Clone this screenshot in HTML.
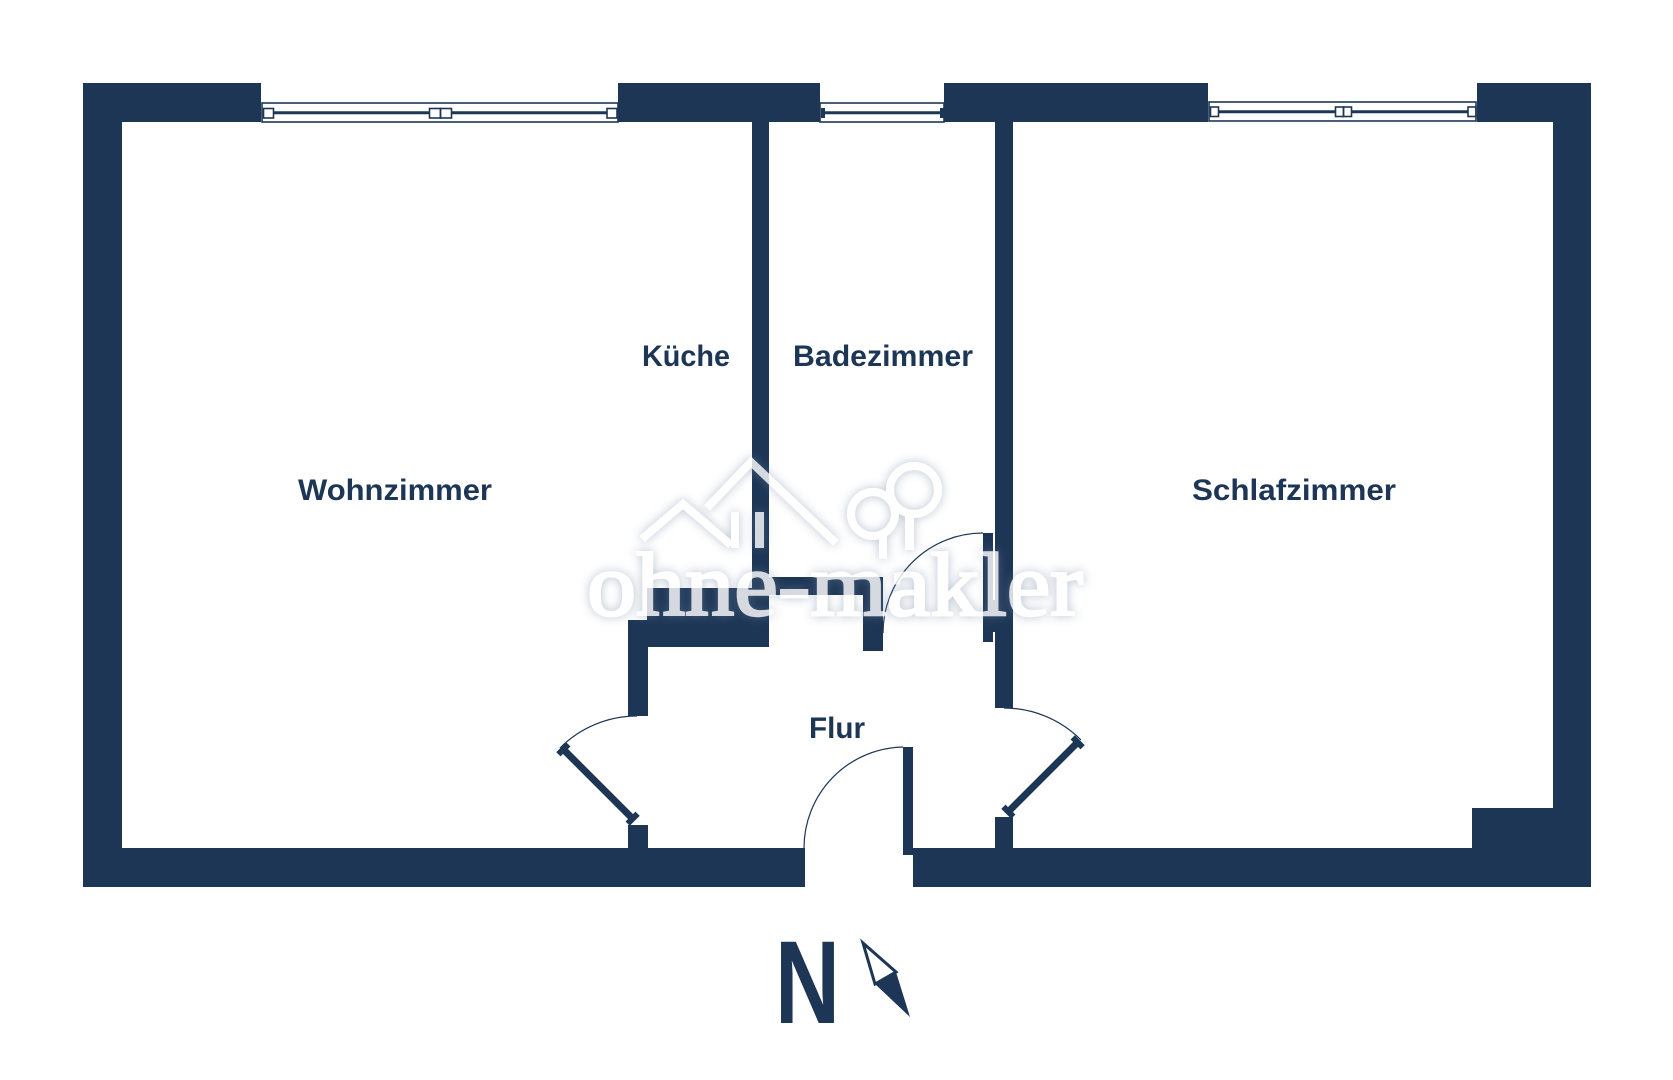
<!DOCTYPE html>
<html lang="de">
<head>
<meta charset="utf-8">
<title>Grundriss</title>
<style>
  html, body { margin: 0; padding: 0; background: #ffffff; }
  body { width: 1673px; height: 1080px; overflow: hidden; }
  svg { display: block; }
  .lbl { font-family: "Liberation Sans", "DejaVu Sans", sans-serif; font-weight: bold; fill: #1d3655; }
</style>
</head>
<body>
<svg width="1673" height="1080" viewBox="0 0 1673 1080" xmlns="http://www.w3.org/2000/svg">
  <defs>
    <filter id="glow" x="-20%" y="-40%" width="140%" height="180%">
      <feGaussianBlur in="SourceAlpha" stdDeviation="5" result="b"/>
      <feFlood flood-color="#6f84a0" flood-opacity="0.6"/>
      <feComposite in2="b" operator="in" result="s"/>
      <feMerge><feMergeNode in="s"/><feMergeNode in="SourceGraphic"/></feMerge>
    </filter>
  </defs>

  <rect width="1673" height="1080" fill="#ffffff"/>

  <g fill="#1d3655">
    <!-- top wall pieces -->
    <rect x="83" y="83" width="178" height="39"/>
    <rect x="618" y="83" width="202" height="39"/>
    <rect x="944" y="83" width="264" height="39"/>
    <rect x="1477" y="83" width="114" height="39"/>
    <!-- left / right walls -->
    <rect x="83" y="83" width="39" height="804"/>
    <rect x="1553" y="83" width="38" height="804"/>
    <!-- bottom walls -->
    <rect x="83" y="848" width="722" height="39"/>
    <rect x="913" y="848" width="678" height="39"/>
    <!-- corner block -->
    <rect x="1472" y="808" width="81" height="40"/>

    <!-- Küche / Bad wall -->
    <rect x="752" y="122" width="17" height="473"/>
    <!-- Bad bottom wall -->
    <rect x="752" y="577" width="131" height="18"/>
    <rect x="863" y="577" width="20" height="74"/>
    <!-- Küche bottom block -->
    <rect x="647" y="588" width="122" height="59"/>
    <!-- Flur left wall -->
    <rect x="628" y="620" width="20" height="96"/>
    <rect x="628" y="825" width="20" height="23"/>
    <!-- Bad / Schlafzimmer wall -->
    <rect x="995" y="122" width="18" height="586"/>
    <rect x="995" y="817" width="18" height="31"/>
    <!-- Bad door leaf -->
    <rect x="983" y="533" width="10" height="109"/>
    <rect x="993" y="600" width="2" height="32"/>
    <!-- entrance door leaf -->
    <rect x="903" y="747" width="10" height="108"/>
  </g>

  <!-- windows -->
  <g fill="none" stroke="#1d3655">
    <!-- window 1 -->
    <rect x="262" y="103" width="356" height="19" stroke-width="1.6"/>
    <line x1="274" y1="112.7" x2="429" y2="112.7" stroke-width="3"/>
    <line x1="452" y1="112.7" x2="607" y2="112.7" stroke-width="3"/>
    <rect x="263.5" y="108.5" width="10" height="9.5" stroke-width="1.6"/>
    <rect x="429.5" y="108.5" width="11" height="9.5" stroke-width="1.6"/>
    <rect x="440.5" y="108.5" width="11" height="9.5" stroke-width="1.6"/>
    <rect x="607" y="108.5" width="10" height="9.5" stroke-width="1.6"/>
    <!-- window 2 -->
    <rect x="820" y="103" width="124" height="19" stroke-width="1.6"/>
    <line x1="825" y1="112.7" x2="940" y2="112.7" stroke-width="3"/>
    <!-- window 3 -->
    <rect x="1209" y="102" width="267" height="19" stroke-width="1.6"/>
    <line x1="1219" y1="111.7" x2="1335" y2="111.7" stroke-width="3"/>
    <line x1="1352" y1="111.7" x2="1468" y2="111.7" stroke-width="3"/>
    <rect x="1210.5" y="107" width="8" height="9.5" stroke-width="1.6"/>
    <rect x="1335.5" y="107" width="8" height="9.5" stroke-width="1.6"/>
    <rect x="1343.5" y="107" width="8" height="9.5" stroke-width="1.6"/>
    <rect x="1468" y="107" width="8" height="9.5" stroke-width="1.6"/>
  </g>
  <g fill="#1d3655">
    <rect x="821" y="108" width="4" height="10"/>
    <rect x="940" y="108" width="4" height="10"/>
  </g>

  <!-- door arcs -->
  <g fill="none" stroke="#1d3655" stroke-width="1.2">
    <path d="M 983 533 A 100 100 0 0 0 883 633"/>
    <path d="M 637 716 A 109 109 0 0 0 560 748"/>
    <path d="M 1004 708 A 109 109 0 0 1 1081 740"/>
    <path d="M 903 747 A 101 101 0 0 0 804 848"/>
  </g>

  <!-- swing door leaves -->
  <g fill="#1d3655" stroke="none">
    <g transform="translate(598,784) rotate(45)">
      <rect x="-50" y="-3.5" width="100" height="7"/>
      <rect x="-52" y="-7" width="6" height="14"/>
      <rect x="46" y="-7" width="6" height="14"/>
    </g>
    <g transform="translate(1043,777) rotate(-45)">
      <rect x="-50" y="-3.5" width="100" height="7"/>
      <rect x="-52" y="-7" width="6" height="14"/>
      <rect x="46" y="-7" width="6" height="14"/>
    </g>
  </g>

  <!-- labels -->
  <text class="lbl" x="642" y="366" font-size="30" textLength="88" lengthAdjust="spacingAndGlyphs">Küche</text>
  <text class="lbl" x="793" y="366" font-size="30" textLength="180" lengthAdjust="spacingAndGlyphs">Badezimmer</text>
  <text class="lbl" x="298" y="500" font-size="30" textLength="194" lengthAdjust="spacingAndGlyphs">Wohnzimmer</text>
  <text class="lbl" x="1192" y="500" font-size="30" textLength="204" lengthAdjust="spacingAndGlyphs">Schlafzimmer</text>
  <text class="lbl" x="809" y="738" font-size="30" textLength="56" lengthAdjust="spacingAndGlyphs">Flur</text>

  <!-- compass -->
  <text class="lbl" x="775" y="1023" font-size="118" textLength="65" lengthAdjust="spacingAndGlyphs">N</text>
  <polygon points="863,943 896,972 875,984" fill="#ffffff" stroke="#1d3655" stroke-width="3" stroke-linejoin="miter"/>
  <polygon points="875,984 896,972 910,1017" fill="#1d3655"/>

  <!-- watermark -->
  <g opacity="0.82" filter="url(#glow)">
    <g fill="none" stroke="#ffffff" stroke-width="8" stroke-linejoin="miter">
      <polyline points="642,539 683,504 731,545"/>
      <polyline points="707,508 751,462 836,543"/>
      <circle cx="873" cy="514" r="22"/>
      <circle cx="914" cy="490" r="24"/>
    </g>
    <g fill="#ffffff">
      <rect x="731" y="512" width="8" height="36"/>
      <rect x="755" y="512" width="9" height="36"/>
      <rect x="879" y="535" width="8" height="24"/>
      <rect x="905" y="512" width="9" height="38"/>
      <text x="587" y="615" font-family="'Liberation Serif', 'DejaVu Serif', serif" font-size="90" textLength="496" lengthAdjust="spacingAndGlyphs" fill="#ffffff" stroke="#ffffff" stroke-width="2.5">ohne-makler</text>
    </g>
  </g>
</svg>
</body>
</html>
